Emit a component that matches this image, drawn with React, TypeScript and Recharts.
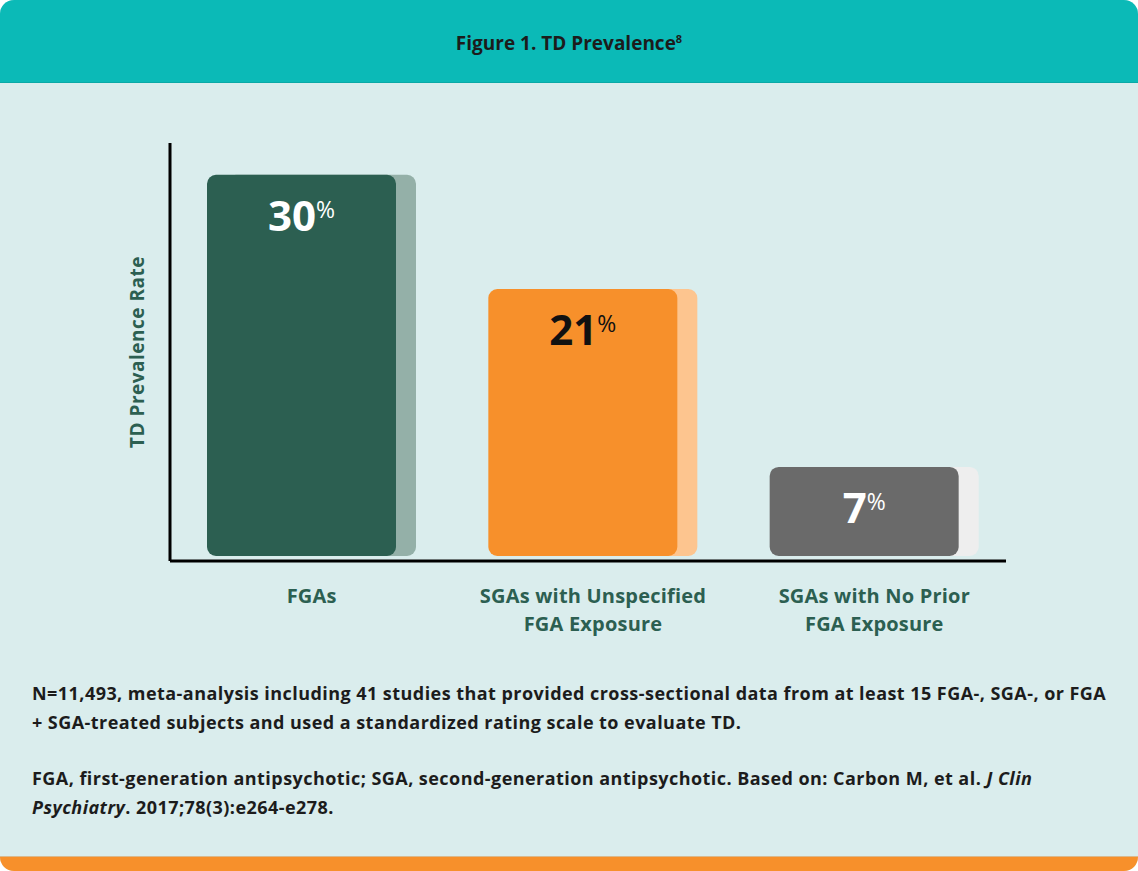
import React from 'react';
import { BarChart, Bar, XAxis, YAxis, LabelList } from 'recharts';

const categories = ['FGAs', 'SGAs with Unspecified\nFGA Exposure', 'SGAs with No Prior\nFGA Exposure'];
const values = [30, 21, 7];
const barColors = ['#2c5f51', '#f7902b', '#6a6a6a'];
const shadowColors = ['#94b0a8', '#fdc58f', '#eeeeee'];
const labelColors = ['#ffffff', '#111111', '#ffffff'];

const data = categories.map((name, i) => ({
  name,
  value: values[i],
  color: barColors[i],
  shadow: shadowColors[i],
  labelColor: labelColors[i],
}));

const FONT = "'Open Sans', sans-serif";
const GREEN = '#2c5f51';

const BarShape = (props: any) => {
  const { x, y, width, height, payload } = props;
  if (width == null || height == null) return null;
  return (
    <g>
      <rect x={x + 20} y={y} width={width} height={height} rx={9} ry={9} fill={payload.shadow} />
      <rect x={x} y={y} width={width} height={height} rx={9} ry={9} fill={payload.color} />
    </g>
  );
};

const renderLabel = (props: any) => {
  const { x, y, width, value, index } = props;
  const color = labelColors[index] ?? '#fff';
  return (
    <text x={x + width / 2} y={y + 56} textAnchor="middle" fill={color} fontFamily={FONT}>
      <tspan fontSize={42} fontWeight={700}>{value}</tspan>
      <tspan fontSize={23} fontWeight={400} dy={-13}>%</tspan>
    </text>
  );
};

const XTick = (props: any) => {
  const { x, y, payload } = props;
  const lines = String(payload.value).split('\n');
  return (
    <text
      x={x + 10}
      y={y + 34}
      textAnchor="middle"
      fill={GREEN}
      fontFamily={FONT}
      fontSize={20}
      fontWeight={700}
      letterSpacing={0.2}
    >
      {lines.map((l, i) => (
        <tspan key={i} x={x + 10} dy={i === 0 ? 0 : 28}>
          {l}
        </tspan>
      ))}
    </text>
  );
};

export default function App() {
  const noteStyle: React.CSSProperties = {
    position: 'absolute',
    left: 32,
    color: '#1c1c1c',
    fontSize: 18,
    fontWeight: 700,
    letterSpacing: 0.45,
    lineHeight: '28.5px',
    whiteSpace: 'nowrap',
  };
  return (
    <div
      style={{
        position: 'absolute',
        left: 0,
        top: 0,
        width: 1138,
        height: 871,
        background: '#daeded',
        borderRadius: 14,
        overflow: 'hidden',
        fontFamily: FONT,
      }}
    >
      <div
        style={{
          position: 'absolute',
          left: 0,
          top: 0,
          width: 1138,
          height: 82,
          background: '#0bbab7',
          borderBottom: '1px solid #0aa9a6',
          display: 'flex',
          alignItems: 'center',
          justifyContent: 'center',
          color: '#1c1c1c',
          fontSize: 19,
          fontWeight: 700,
        }}
      >
        <span style={{ marginTop: 4 }}>
          Figure 1. TD Prevalence<sup style={{ fontSize: 11 }}>8</sup>
        </span>
      </div>

      <div style={{ position: 'absolute', left: 0, top: 0 }}>
        <BarChart
          width={1138}
          height={660}
          data={data}
          margin={{ top: 143, right: 132, bottom: 69, left: 130 }}
        >
          <XAxis
            dataKey="name"
            axisLine={{ stroke: '#000', strokeWidth: 3 }}
            tickLine={false}
            tick={<XTick />}
            interval={0}
            padding={{ left: -9, right: 1 }}
          />
          <YAxis
            domain={[-0.4, 32.5]}
            allowDataOverflow
            tick={false}
            tickLine={false}
            axisLine={{ stroke: '#000', strokeWidth: 3 }}
            width={40}
            label={{
              value: 'TD Prevalence Rate',
              angle: -90,
              position: 'insideLeft',
              offset: 7,
              style: {
                textAnchor: 'middle',
                fill: GREEN,
                fontFamily: FONT,
                fontSize: 19,
                fontWeight: 700,
                letterSpacing: 0.5,
              },
            }}
          />
          <Bar dataKey="value" barSize={189} isAnimationActive={false} shape={<BarShape />}>
            <LabelList dataKey="value" content={renderLabel} />
          </Bar>
        </BarChart>
      </div>

      <div style={{ ...noteStyle, top: 679 }}>
        N=11,493, meta-analysis including 41 studies that provided cross-sectional data from at least 15 FGA-, SGA-, or FGA
        <br />+ SGA-treated subjects and used a standardized rating scale to evaluate TD.
      </div>
      <div style={{ ...noteStyle, top: 764 }}>
        FGA, first-generation antipsychotic; SGA, second-generation antipsychotic. Based on: Carbon M, et al.{' '}
        <i>J Clin</i>
        <br />
        <i>Psychiatry</i>. 2017;78(3):e264-e278.
      </div>

      <div
        style={{
          position: 'absolute',
          left: 0,
          bottom: 0,
          width: 1138,
          height: 14,
          background: '#f7902b',
          borderTop: '1px solid #d9b98e',
        }}
      />
    </div>
  );
}
